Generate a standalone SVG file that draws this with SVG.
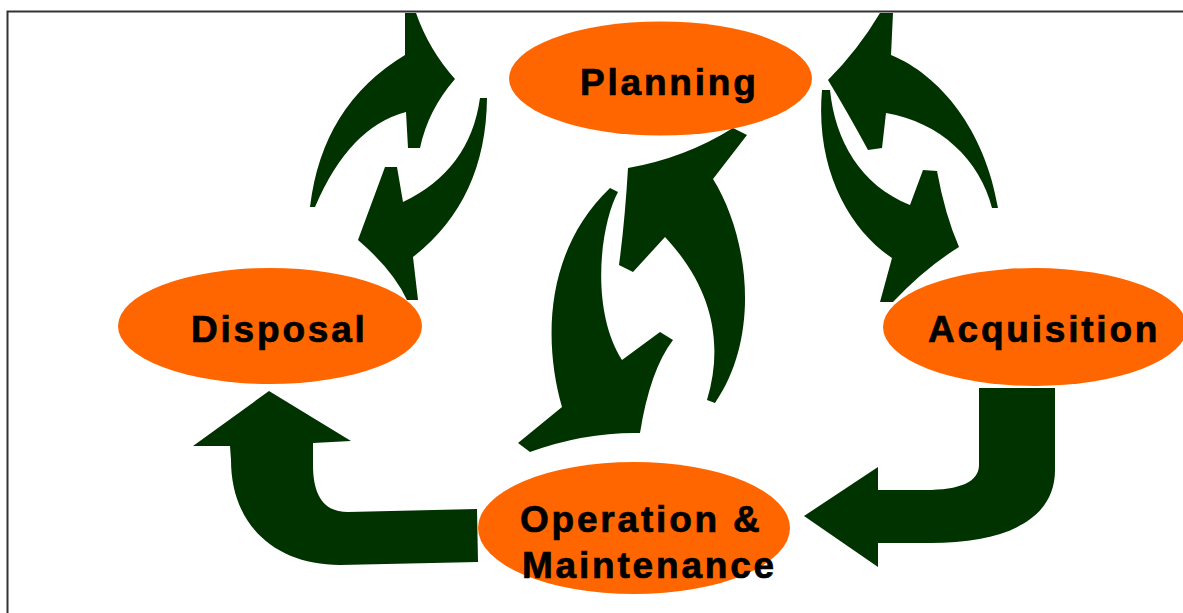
<svg xmlns="http://www.w3.org/2000/svg" width="1183" height="613" viewBox="0 0 1183 613">
<style>
.arr{fill:#003300;stroke:none}
.node ellipse{fill:#FF6600;stroke:none}
.node text{font-family:"Liberation Sans",Arial,Helvetica,sans-serif;font-weight:bold;font-size:37px;letter-spacing:2.8px;fill:#000;stroke:#000;stroke-width:0.7px}
</style>
<rect x="0" y="0" width="1183" height="613" fill="#ffffff"/>
<path d="M7.5,613 L7.5,11.5 L1183,11.5" fill="none" stroke="#333" stroke-width="2"/>
<g id="connectors">
<path class="arr" d="M405,13 L416,13 Q429,50 455,79 Q428,110 420,148 L408,148 L406,112 Q349,127 315,207 L310,207 Q322,105 405,55 Z"/>
<path class="arr" d="M480,98 L487,98 Q486,200 413,257 L418,300 L407,300 Q393,270 358,240 L385,167 L397,167 L403,202 Q470,170 480,98 Z"/>
<path class="arr" d="M880,13 L893,13 L891,55 C940,75 985,130 998,208 L992,208 C980,160 940,122 886,113 L882,148 L868,150 Q848,113 828,80 Q858,50 880,13 Z"/>
<path class="arr" d="M822,90 L830,90 C835,140 860,185 910,205 L923,170 L937,171 Q945,215 959,247 Q925,268 893,302 L880,302 L892,258 C850,230 815,170 822,90 Z"/>
<path class="arr" d="M628,168 Q685,158 733,128 L747,135 L713,179 C748,235 762,335 715,403 L707,400 C725,340 710,285 665,237 L633,272 L619,265 Q625,220 628,168 Z"/>
<path class="arr" d="M610,188 L618,192 C600,225 590,310 622,360 L660,332 L673,340 Q650,370 640,433 Q585,432 530,452 L518,443 L562,407 C543,340 545,250 610,188 Z"/>
<path class="arr" d="M269,391 L351,441 L313,443 L313,465 C313,497 325,512 348,512 L477,509 L478,562 L340,565 C275,565 231,525 231,460 L230,446 L193,446 Z"/>
<path class="arr" d="M979,388 L1055,388 L1055,470 C1055,520 1005,543 930,543 L878,543 L878,567 L804,516 L878,467 L878,490 L925,490 C960,490 979,482 979,465 Z"/>
</g>
<g id="planning" class="node">
<ellipse cx="660.5" cy="78.5" rx="151.5" ry="57"/>
<text x="580" y="95">Planning</text>
</g>
<g id="disposal" class="node">
<ellipse cx="270" cy="326" rx="152" ry="58"/>
<text x="191" y="342">Disposal</text>
</g>
<g id="acquisition" class="node">
<ellipse cx="1035" cy="327" rx="152" ry="59"/>
<text x="928" y="342">Acquisition</text>
</g>
<g id="operation" class="node">
<ellipse cx="634" cy="528" rx="156" ry="66"/>
<text x="520" y="532">Operation &amp;</text>
<text x="522" y="578">Maintenance</text>
</g>
</svg>
